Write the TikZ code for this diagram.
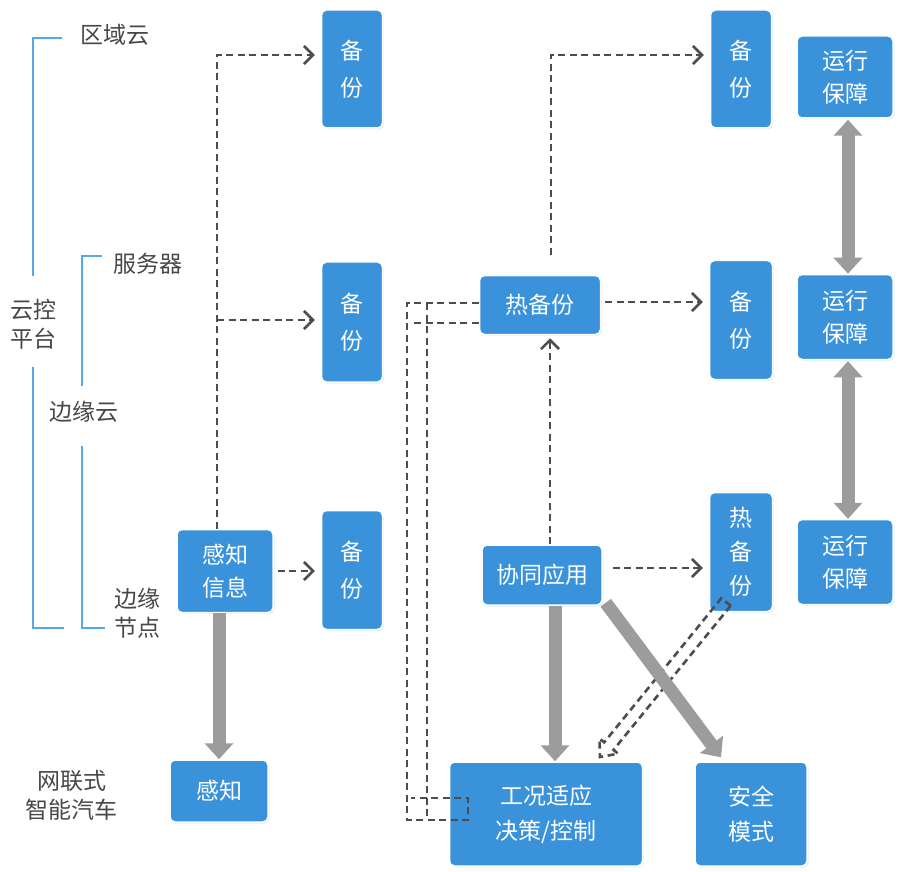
\documentclass[tikz,border=0pt]{standalone}
\usepackage{fontspec}
\newfontfamily\cjk{Noto Sans CJK SC}
\usetikzlibrary{arrows.meta,shadows,calc}
\definecolor{boxblue}{HTML}{3A92DB}
\definecolor{brkblue}{HTML}{55A9EA}
\definecolor{dgray}{HTML}{4D4D4D}
\definecolor{tgray}{HTML}{9C9C9C}
\definecolor{lblgray}{HTML}{474747}
\begin{document}
\begin{tikzpicture}[x=1pt,y=-1pt,
  box/.style={fill=boxblue, draw=white, line width=1.5pt, rounded corners=5pt,
    text=white, align=center, inner sep=0pt,
    font=\cjk\fontsize{23}{35}\selectfont,
    drop shadow={shadow xshift=1.5pt, shadow yshift=-1.5pt, fill=brkblue!35}},
  lbl/.style={text=lblgray, align=center, inner sep=0pt, font=\cjk\fontsize{23}{29}\selectfont},
  brk/.style={draw=brkblue, line width=2.2pt},
  dsh/.style={draw=dgray, line width=2.6pt, dash pattern=on 7pt off 4.5pt},
  dsharr/.style={dsh, -{Straight Barb[length=9pt,width=18pt,line width=2.6pt]}, shorten >=6pt},
  garr/.style={draw=tgray, line width=13pt, -{Triangle[length=16pt,width=28pt]}},
  garrboth/.style={draw=tgray, line width=13pt, {Triangle[length=16pt,width=28pt]}-{Triangle[length=16pt,width=28pt]}}
]
\useasboundingbox (0,0) rectangle (906,872);

% left labels and brackets
\node[lbl] (lqy) at (115,35) {区域云};
\node[lbl] (lfw) at (148,264) {服务器};
\node[lbl] (lyk) at (33,324) {云控\\平台};
\node[lbl] (lby) at (84,412) {边缘云};
\node[lbl] (ljd) at (137,613) {边缘\\节点};
\node[lbl] (lqc) at (72,795) {网联式\\智能汽车};

\draw[brk] (62,38) -- (33,38) -- (33,276);
\draw[brk] (33,367) -- (33,628) -- (64,628);
\draw[brk] (102,256) -- (82,256) -- (82,386);
\draw[brk] (82,446) -- (82,628) -- (105,628);

% boxes
\node[box, minimum width=61, minimum height=118, font=\cjk\fontsize{23}{37}\selectfont] (b1) at (352,69) {备\\份};
\node[box, minimum width=61, minimum height=120, font=\cjk\fontsize{23}{37}\selectfont] (b2) at (352,322) {备\\份};
\node[box, minimum width=61, minimum height=119, font=\cjk\fontsize{23}{37}\selectfont] (b3) at (352,570) {备\\份};
\node[box, minimum width=96, minimum height=83, font=\cjk\fontsize{23}{33}\selectfont] (gzxx) at (225,571) {感知\\信息};
\node[box, minimum width=98, minimum height=62] (gz) at (219,791) {感知};
\node[box, minimum width=121, minimum height=59] (rbf) at (540,305) {热备份};
\node[box, minimum width=61, minimum height=118, font=\cjk\fontsize{23}{37}\selectfont] (b4) at (741,69) {备\\份};
\node[box, minimum width=63, minimum height=119, font=\cjk\fontsize{23}{37}\selectfont] (b5) at (741,320) {备\\份};
\node[box, minimum width=63, minimum height=119, font=\cjk\fontsize{23}{34}\selectfont] (rbf2) at (741,552) {热\\备\\份};
\node[box, minimum width=120, minimum height=60] (xtyy) at (542,575) {协同应用};
\node[box, minimum width=193, minimum height=104] (gk) at (546,814) {工况适应\\决策/控制};
\node[box, minimum width=112, minimum height=104] (aq) at (751,814) {安全\\模式};
\node[box, minimum width=96, minimum height=82, font=\cjk\fontsize{23}{33}\selectfont] (yx1) at (845,77) {运行\\保障};
\node[box, minimum width=96, minimum height=85, font=\cjk\fontsize{23}{33}\selectfont] (yx2) at (845,317) {运行\\保障};
\node[box, minimum width=96, minimum height=85, font=\cjk\fontsize{23}{33}\selectfont] (yx3) at (845,562) {运行\\保障};

% dashed arrows
\coordinate (t1) at (217,55);
\coordinate (t2) at (217,320);
\draw[dsharr] (gzxx.north -| t1) -- (t1) -- (t1 -| b1.west);
\draw[dsharr] (t2) -- (t2 -| b2.west);
\draw[dsharr, shorten <=4pt] (gzxx.east) -- (gzxx.east -| b3.west);

\coordinate (t3) at (551,55);
\draw[dsharr, shorten <=20pt] (rbf.north -| t3) -- (t3) -- (t3 -| b4.west);
\coordinate (t4) at (551,302);
\draw[dsharr, shorten <=4pt] (rbf.east |- t4) -- (t4 -| b5.west);
\coordinate (t5) at (550,450);
\draw[dsharr, shorten >=3pt] (xtyy.north -| t5) -- (rbf.south -| t5);
\coordinate (t6) at (612,568);
\draw[dsharr, shorten <=10pt] (xtyy.east |- t6) -- (t6 -| rbf2.west);

% double dashed loop from 热备份 to 工况适应
\coordinate (p1) at (480,303);
\coordinate (p2) at (480,323);
\draw[dsh] (rbf.west |- p1) -- (407,303) -- (407,820) -- (468,820) -- (468,798) -- (411,798);
\draw[dsh] (rbf.west |- p2) -- (410,323);
\draw[dsh] (427,303) -- (427,819);

% hollow dashed arrow from 热备份 (right) to 工况适应
\coordinate (hs) at (726,602);
\coordinate (ht) at (600,757);
\coordinate (hb) at ($(ht)!14pt!(hs)$);
\draw[dsh] ($(hs)!6pt!90:(ht)$) -- ($(hb)!6pt!-90:(hs)$) -- ($(hb)!12pt!-90:(hs)$) -- (ht)
  -- ($(hb)!12pt!90:(hs)$) -- ($(hb)!6pt!90:(hs)$) -- ($(hs)!6pt!-90:(ht)$) -- cycle;

% thick gray arrows
\draw[garr] (gz.north |- gzxx.south) -- (gz.north);
\coordinate (t7) at (555,700);
\draw[garr] (xtyy.south -| t7) -- (gk.north -| t7);
\draw[garr] ([xshift=3pt,yshift=3pt]xtyy.south east) -- ([xshift=-30pt,yshift=4pt]aq.north);
\draw[garrboth] ([xshift=3pt,yshift=-1pt]yx1.south) -- ([xshift=3pt]yx2.north);
\draw[garrboth] ([xshift=3pt,yshift=-1pt]yx2.south) -- ([xshift=3pt]yx3.north);
\end{tikzpicture}
\end{document}
